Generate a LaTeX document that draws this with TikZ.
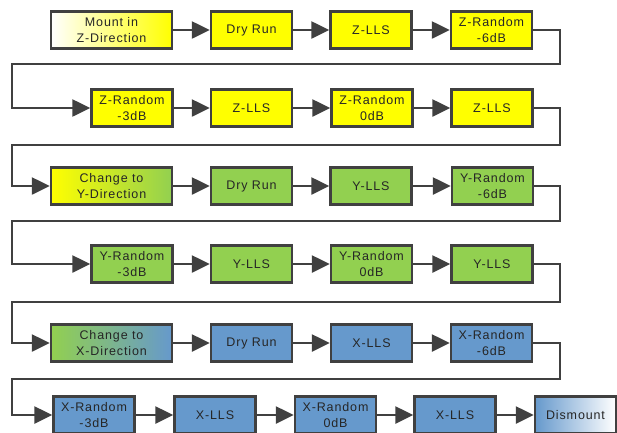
\documentclass[tikz,border=0pt]{standalone}
\usepackage{fontspec}
\setmainfont{Liberation Sans}[LetterSpace=7]
\usetikzlibrary{arrows.meta}
\definecolor{zyel}{RGB}{255,255,0}
\definecolor{ygrn}{RGB}{146,208,80}
\definecolor{xblu}{RGB}{102,153,204}
\definecolor{rim}{RGB}{64,64,64}

\begin{document}
\begin{tikzpicture}[x=1pt,y=-1pt,
  box/.style={draw=rim,line width=2.5pt,minimum width=81pt,minimum height=37pt,inner sep=0pt,align=center,text=black!85,font=\fontsize{12.5}{15.5}\selectfont},
  wide/.style={box,minimum width=121pt},
  flow/.style={draw=rim,line width=2.6pt,-{Triangle[length=18pt,width=17pt]}}]
\useasboundingbox (0,0) rectangle (617,432);

% Z direction
\node[wide,left color=white,right color=zyel] (z1) at (111.5,30) {Mount in\\Z-Direction};
\node[box,fill=zyel] (z2) at (251.5,30) {Dry Run};
\node[box,fill=zyel] (z3) at (371,30) {Z-LLS};
\node[box,fill=zyel] (z4) at (491.5,30) {Z-Random\\-6dB};
\node[box,fill=zyel] (z5) at (132,108) {Z-Random\\-3dB};
\node[box,fill=zyel] (z6) at (251.5,108) {Z-LLS};
\node[box,fill=zyel] (z7) at (372,108) {Z-Random\\0dB};
\node[box,fill=zyel] (z8) at (492,108) {Z-LLS};

% Y direction
\node[wide,left color=zyel,right color=ygrn] (y1) at (111.5,186) {Change to\\Y-Direction};
\node[box,fill=ygrn] (y2) at (251.5,186) {Dry Run};
\node[box,fill=ygrn] (y3) at (371,186) {Y-LLS};
\node[box,fill=ygrn] (y4) at (492.5,186) {Y-Random\\-6dB};
\node[box,fill=ygrn] (y5) at (132,264) {Y-Random\\-3dB};
\node[box,fill=ygrn] (y6) at (251.5,264) {Y-LLS};
\node[box,fill=ygrn] (y7) at (371.5,264) {Y-Random\\0dB};
\node[box,fill=ygrn] (y8) at (492,264) {Y-LLS};

% X direction
\node[wide,left color=ygrn,right color=xblu] (x1) at (111.5,343) {Change to\\X-Direction};
\node[box,fill=xblu] (x2) at (251.5,343) {Dry Run};
\node[box,fill=xblu] (x3) at (371.5,343) {X-LLS};
\node[box,fill=xblu] (x4) at (491.5,343) {X-Random\\-6dB};
\node[box,fill=xblu] (x5) at (94,415) {X-Random\\-3dB};
\node[box,fill=xblu] (x6) at (215,415) {X-LLS};
\node[box,fill=xblu] (x7) at (335.5,415) {X-Random\\0dB};
\node[box,fill=xblu] (x8) at (455,415) {X-LLS};
\node[box,left color=xblu,right color=white] (x9) at (575.5,415) {Dismount};

% turning points
\coordinate (t1a) at (560,64);  \coordinate (t1b) at (12,64);
\coordinate (t2a) at (560,145); \coordinate (t2b) at (12,145);
\coordinate (t3a) at (560,221); \coordinate (t3b) at (12,221);
\coordinate (t4a) at (560,302); \coordinate (t4b) at (12,302);
\coordinate (t5a) at (560,379); \coordinate (t5b) at (12,379);

\path[flow] (z1.east) -- (z2.west);
\path[flow] (z2.east) -- (z3.west);
\path[flow] (z3.east) -- (z4.west);
\path[flow] (z4.east) -| (t1a) -- (t1b) |- (z5.west);
\path[flow] (z5.east) -- (z6.west);
\path[flow] (z6.east) -- (z7.west);
\path[flow] (z7.east) -- (z8.west);
\path[flow] (z8.east) -| (t2a) -- (t2b) |- (y1.west);
\path[flow] (y1.east) -- (y2.west);
\path[flow] (y2.east) -- (y3.west);
\path[flow] (y3.east) -- (y4.west);
\path[flow] (y4.east) -| (t3a) -- (t3b) |- (y5.west);
\path[flow] (y5.east) -- (y6.west);
\path[flow] (y6.east) -- (y7.west);
\path[flow] (y7.east) -- (y8.west);
\path[flow] (y8.east) -| (t4a) -- (t4b) |- (x1.west);
\path[flow] (x1.east) -- (x2.west);
\path[flow] (x2.east) -- (x3.west);
\path[flow] (x3.east) -- (x4.west);
\path[flow] (x4.east) -| (t5a) -- (t5b) |- (x5.west);
\path[flow] (x5.east) -- (x6.west);
\path[flow] (x6.east) -- (x7.west);
\path[flow] (x7.east) -- (x8.west);
\path[flow] (x8.east) -- (x9.west);
\end{tikzpicture}
\end{document}
